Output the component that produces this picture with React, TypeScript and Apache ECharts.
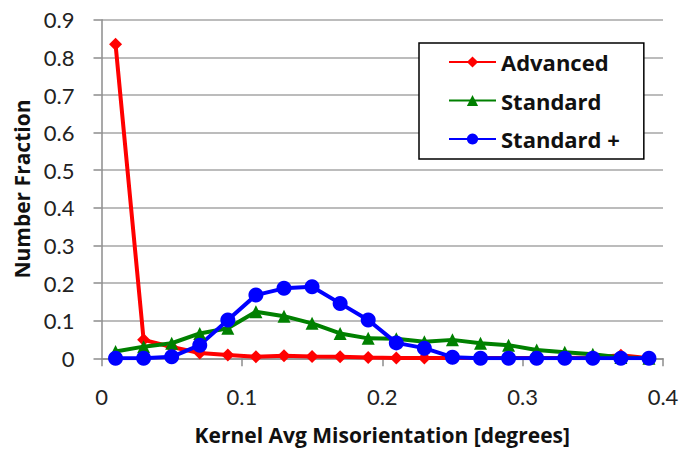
import React, { useEffect, useRef } from "react";
import * as echarts from "echarts";

const xValues = [0.01, 0.03, 0.05, 0.07, 0.09, 0.11, 0.13, 0.15, 0.17, 0.19, 0.21, 0.23, 0.25, 0.27, 0.29, 0.31, 0.33, 0.35, 0.37, 0.39];
const advanced = [0.835, 0.049, 0.03, 0.014, 0.009, 0.004, 0.007, 0.005, 0.004, 0.002, 0.001, 0.001, 0.001, 0.001, 0.001, 0.001, 0.001, 0.002, 0.008, 0.0];
const standard = [0.018, 0.031, 0.04, 0.066, 0.08, 0.124, 0.112, 0.093, 0.066, 0.053, 0.052, 0.044, 0.049, 0.04, 0.035, 0.022, 0.016, 0.011, 0.002, 0.0];
const standardPlus = [0.0, 0.0, 0.004, 0.035, 0.102, 0.168, 0.186, 0.19, 0.146, 0.102, 0.041, 0.027, 0.003, 0.0, 0.0, 0.0, 0.0, 0.0, 0.0, 0.0];
const seriesNames = ["Advanced", "Standard", "Standard +"];

const pairs = (ys: number[]) => xValues.map((x, i) => [x, ys[i]]);

export default function App() {
  const ref = useRef<HTMLDivElement>(null);
  useEffect(() => {
    if (!ref.current) return;
    const chart = echarts.init(ref.current, null, { renderer: "svg" });
    const tickFont = "Lato, 'Open Sans', sans-serif";
    const boldFont = "'Open Sans', Lato, sans-serif";
    const axisGray = "#8c8c8c";
    chart.setOption({
      animation: false,
      backgroundColor: "#ffffff",
      grid: { left: 101.5, right: 22, top: 19.8, bottom: 100.7 },
      legend: {
        orient: "vertical",
        left: 419,
        top: 43,
        data: seriesNames,
        itemWidth: 47,
        itemHeight: 14,
        itemGap: 16.5,
        padding: [8, 24, 9, 29],
        borderColor: "#000",
        borderWidth: 1.5,
        backgroundColor: "#fff",
        textStyle: { fontFamily: boldFont, fontWeight: "bold", fontSize: 22, color: "#111", lineHeight: 22 },
      },
      xAxis: {
        type: "value",
        min: 0,
        max: 0.4,
        interval: 0.1,
        name: "Kernel Avg Misorientation [degrees]",
        nameLocation: "middle",
        nameGap: 66,
        nameTextStyle: { fontFamily: boldFont, fontWeight: "bold", fontSize: 21, color: "#111" },
        axisLine: { show: true, onZero: false, lineStyle: { color: axisGray, width: 1.5 } },
        axisTick: { show: true, inside: false, length: 8, lineStyle: { color: axisGray, width: 1.5 } },
        axisLabel: { fontFamily: tickFont, fontSize: 22, color: "#222", margin: 27 },
        splitLine: { show: false },
      },
      yAxis: {
        type: "value",
        min: 0,
        max: 0.9,
        interval: 0.1,
        name: "Number Fraction",
        nameLocation: "middle",
        nameGap: 65,
        nameTextStyle: { fontFamily: boldFont, fontWeight: "bold", fontSize: 21, color: "#111" },
        axisLine: { show: true, lineStyle: { color: axisGray, width: 1.5 } },
        axisTick: { show: true, inside: false, length: 8, lineStyle: { color: axisGray, width: 1.5 } },
        axisLabel: { fontFamily: tickFont, fontSize: 22, color: "#222", margin: 27 },
        splitLine: { show: true, lineStyle: { color: "#a6a6a6", width: 1.5 } },
      },
      series: [
        {
          name: seriesNames[0],
          type: "line",
          data: pairs(advanced),
          symbol: "diamond",
          symbolSize: 13,
          itemStyle: { color: "#ff0000" },
          lineStyle: { color: "#ff0000", width: 4 },
        },
        {
          name: seriesNames[1],
          type: "line",
          data: pairs(standard),
          symbol: "triangle",
          symbolSize: 13,
          itemStyle: { color: "#008000" },
          lineStyle: { color: "#008000", width: 4 },
        },
        {
          name: seriesNames[2],
          type: "line",
          data: pairs(standardPlus),
          symbol: "circle",
          symbolSize: 15,
          itemStyle: { color: "#0000ff" },
          lineStyle: { color: "#0000ff", width: 4 },
        },
      ],
    });
    return () => chart.dispose();
  }, []);
  return <div ref={ref} style={{ width: 685, height: 459, position: "absolute", left: 0, top: 0 }} />;
}
